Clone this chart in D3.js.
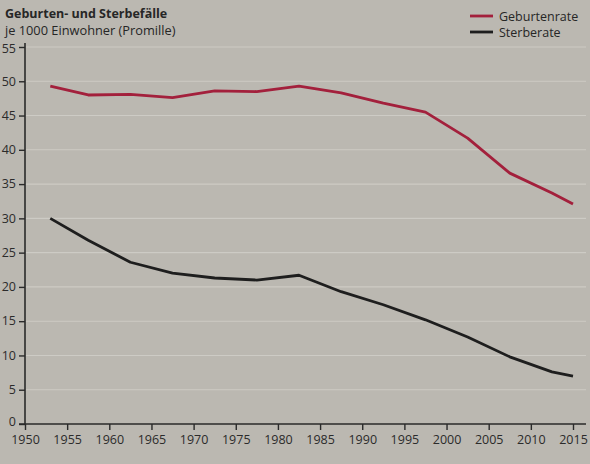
<!DOCTYPE html>
<html><head><meta charset="utf-8">
<script src="https://cdn.jsdelivr.net/npm/d3@7"></script>
<style>
html,body{margin:0;padding:0;background:#bbb8b1;}
svg{display:block;font-family:"Open Sans","Noto Sans",sans-serif;}
</style></head>
<body><svg id="c" width="590" height="464"></svg>
<script>
const years = [1953, 1957.5, 1962.5, 1967.5, 1972.5, 1977.5, 1982.5, 1987.5, 1992.5, 1997.5, 2002.5, 2007.5, 2012.5, 2015];
const geburtenrate = [49.3, 48.0, 48.1, 47.6, 48.6, 48.5, 49.3, 48.3, 46.8, 45.5, 41.7, 36.6, 33.7, 32.1];
const sterberate = [30.0, 26.8, 23.6, 22.0, 21.3, 21.0, 21.7, 19.3, 17.4, 15.2, 12.7, 9.8, 7.6, 7.0];
const xTicks = [1950,1955,1960,1965,1970,1975,1980,1985,1990,1995,2000,2005,2010,2015];
const yTicks = [0,5,10,15,20,25,30,35,40,45,50,55];
const seriesNames = ["Geburtenrate","Sterberate"];
const colors = ["#a3203c","#1e1e1e"];

const svg = d3.select("#c");
const x = d3.scaleLinear().domain([1950,2015]).range([25,573]);
const y = d3.scaleLinear().domain([0,55]).range([424,47]);

// gridlines
svg.append("g").selectAll("line").data(yTicks.filter(d=>d>0)).join("line")
  .attr("x1",26).attr("x2",586).attr("y1",d=>y(d)).attr("y2",d=>y(d))
  .attr("stroke","#d6d4ce").attr("stroke-width",1.1).attr("opacity",0.7);

// axes
const yAxis = d3.axisLeft(y).tickValues(yTicks).tickSize(6).tickPadding(3);
const gy = svg.append("g").attr("transform","translate(25,0)").call(yAxis);
gy.select(".domain").attr("d","M0,43V424");
const xAxis = d3.axisBottom(x).tickValues(xTicks).tickFormat(d3.format("d")).tickSize(6).tickPadding(5);
const gx = svg.append("g").attr("transform","translate(0,424)").call(xAxis);
gx.select(".domain").attr("d","M19,0H586");
[gx,gy].forEach(g=>{
  g.selectAll(".domain").attr("stroke","#2a2a2a").attr("stroke-width",1.6);
  g.selectAll(".tick line").attr("stroke","#2a2a2a").attr("stroke-width",1.4);
  g.selectAll("text").attr("fill","#2b2b2b").attr("font-size",12.5).attr("font-family","'Open Sans','Noto Sans',sans-serif");
});
gy.selectAll(".tick text").attr("dy","0.3em");
gy.selectAll(".tick").filter(d=>d===0).select("text").attr("dy","0.15em");
gy.selectAll(".tick").filter(d=>d===55).select("text").attr("dy","0.42em");

// lines
const line = d3.line().x((d,i)=>x(years[i])).y(d=>y(d));
[geburtenrate, sterberate].forEach((s,k)=>{
  svg.append("path").datum(s).attr("d",line).attr("fill","none")
    .attr("stroke",colors[k]).attr("stroke-width",2.8).attr("stroke-linejoin","round");
});

// title
svg.append("text").attr("x",5).attr("y",18).attr("font-size",12.5).attr("font-weight","bold")
  .attr("fill","#262626").text("Geburten- und Sterbefälle");
svg.append("text").attr("x",5).attr("y",35).attr("font-size",12.8)
  .attr("fill","#262626").text("je 1000 Einwohner (Promille)");

// legend
const lg = svg.append("g");
seriesNames.forEach((n,i)=>{
  const yy = 16 + i*16;
  lg.append("line").attr("x1",470).attr("x2",493).attr("y1",yy).attr("y2",yy)
    .attr("stroke",colors[i]).attr("stroke-width",2.8);
  lg.append("text").attr("x",499).attr("y",yy+4.5).attr("font-size",12.5)
    .attr("fill","#262626").text(n);
});
</script></body></html>
